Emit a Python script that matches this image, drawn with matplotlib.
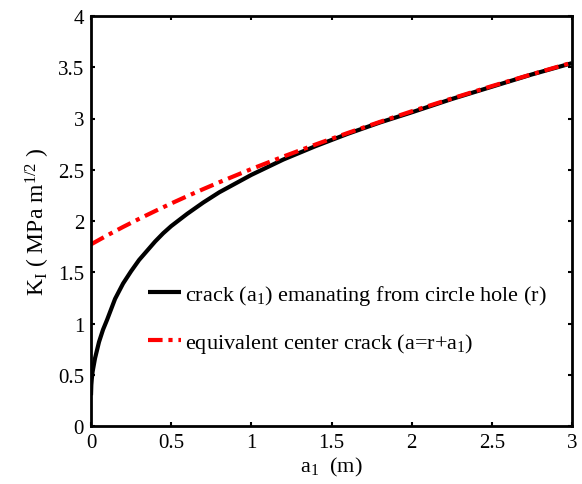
import matplotlib
matplotlib.use("Agg")
import matplotlib.pyplot as plt

plt.rcParams['font.family'] = ['Liberation Serif', 'DejaVu Serif']
plt.rcParams['mathtext.fontset'] = 'custom'
plt.rcParams['mathtext.rm'] = 'Liberation Serif'
plt.rcParams['mathtext.it'] = 'Liberation Serif:italic'
plt.rcParams['mathtext.default'] = 'regular'

# crack length a1 (m)
a1 = [0, 0.002, 0.005, 0.01, 0.025, 0.05, 0.075, 0.1, 0.15, 0.2, 0.25, 0.3, 0.35, 0.4,
      0.45, 0.5, 0.6, 0.7, 0.8, 1.0, 1.2, 1.4, 1.6, 1.8, 2.0, 2.25, 2.5, 2.75, 3.0]
# K_I for crack emanating from circle hole
k_hole = [0.30, 0.40, 0.46, 0.53, 0.66, 0.82, 0.94, 1.035, 1.24, 1.39, 1.51, 1.62, 1.71,
          1.80, 1.88, 1.95, 2.07, 2.18, 2.28, 2.45, 2.60, 2.73, 2.85, 2.96, 3.06, 3.19,
          3.31, 3.43, 3.54]
# K_I for equivalent center crack
a_c = [0, 0.1, 0.2, 0.3, 0.4, 0.5, 0.6, 0.7, 0.8, 1.0, 1.2, 1.4, 1.6, 1.8, 2.0, 2.25,
       2.5, 2.75, 3.0]
k_center = [1.772, 1.859, 1.942, 2.021, 2.097, 2.171, 2.242, 2.311, 2.378, 2.507, 2.629,
            2.746, 2.858, 2.966, 3.070, 3.195, 3.316, 3.432, 3.545]

xticks = [0, 0.5, 1, 1.5, 2, 2.5, 3]
xticklabels = ['0', '0.5', '1', '1.5', '2', '2.5', '3']
yticks = [0, 0.5, 1, 1.5, 2, 2.5, 3, 3.5, 4]
yticklabels = ['0', '0.5', '1', '1.5', '2', '2.5', '3', '3.5', '4']

fig = plt.figure(figsize=(5.82, 4.85), dpi=100)
ax = fig.add_axes([91/582, 58/485, 481/582, 410/485])

ax.plot(a1, k_hole, color='black', lw=3.0, solid_capstyle='butt',
        label='crack (a$_1$) emanating from circle hole (r)')
ax.plot(a_c, k_center, color='red', lw=3.0, linestyle=(0, (3.5, 1.4, 1.0, 1.4)),
        label='equivalent center crack (a=r+a$_1$)')

ax.set_xlim(0, 3)
ax.set_ylim(0, 4)
ax.set_xticks(xticks)
ax.set_xticklabels(xticklabels)
ax.set_yticks(yticks)
ax.set_yticklabels(yticklabels)
ax.tick_params(direction='in', length=3, width=1.5, labelsize=15, top=True, right=True,
               pad=5)
for s in ax.spines.values():
    s.set_linewidth(2.0)

ax.set_xlabel('a$_1$  (m)', fontsize=16, labelpad=2)
ax.set_ylabel('K$_I$ ( MPa m$^{1/2}$ )', fontsize=17, labelpad=4)

leg = ax.legend(loc='upper left', bbox_to_anchor=(0.1, 0.37), frameon=False, fontsize=16,
                handlelength=1.5, handletextpad=0.15, labelspacing=1.05, borderaxespad=0)

fig.savefig('out.png', dpi=100)
